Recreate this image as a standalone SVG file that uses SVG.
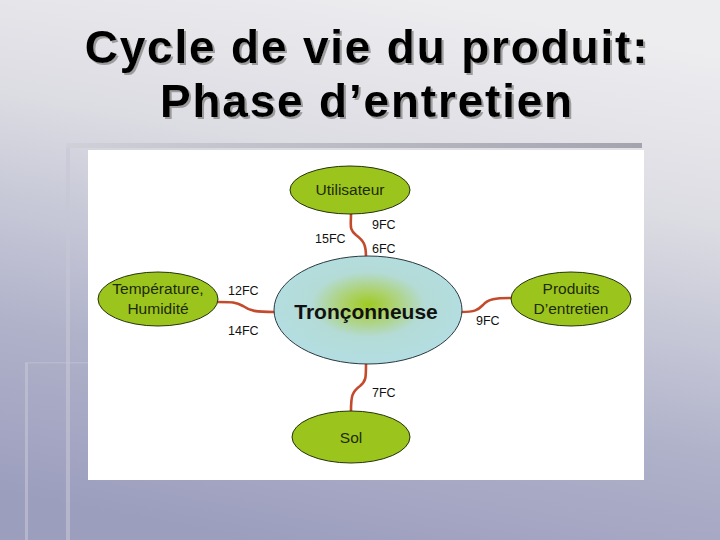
<svg xmlns="http://www.w3.org/2000/svg" width="720" height="540" viewBox="0 0 720 540">
<defs>
<linearGradient id="bg" x1="0.6" y1="0" x2="0.35" y2="1">
<stop offset="0" stop-color="#ededf0"/>
<stop offset="0.3" stop-color="#dcdce3"/>
<stop offset="0.7" stop-color="#b0b2ca"/>
<stop offset="1" stop-color="#9c9ebe"/>
</linearGradient>
<linearGradient id="bar" x1="0" y1="0" x2="1" y2="0">
<stop offset="0" stop-color="#cfd0d8"/>
<stop offset="1" stop-color="#a3a4ad"/>
</linearGradient>
<radialGradient id="core" cx="0.5" cy="0.45" r="0.5">
<stop offset="0" stop-color="#9ecb22"/>
<stop offset="0.25" stop-color="#acd16a"/>
<stop offset="0.6" stop-color="#b4dbd6"/>
<stop offset="1" stop-color="#b3dde0"/>
</radialGradient>
<filter id="shadow" x="-5%" y="-20%" width="110%" height="140%">
<feDropShadow dx="2" dy="2" stdDeviation="0.6" flood-color="#8a8a8a" flood-opacity="0.8"/>
</filter>
<style>
.title{font-family:"Liberation Sans",Arial,sans-serif;font-weight:bold;font-size:46px;letter-spacing:1.8px;fill:#000;text-anchor:middle}
.leaf{fill:#9bc51c;stroke:#24330c;stroke-width:1}
.leaft{font-family:"Liberation Sans",Arial,sans-serif;font-size:15.5px;fill:#1e2a08;text-anchor:middle}
.lbl{font-family:"Liberation Sans",Arial,sans-serif;font-size:12.5px;fill:#111}
.link{fill:none;stroke:#c44a2c;stroke-width:2.6;stroke-linecap:round}
.deco{fill:#c6c7d6;opacity:0.6}
</style>
</defs>
<rect x="0" y="0" width="720" height="540" fill="url(#bg)"/>
<rect x="25" y="363" width="3" height="177" class="deco"/>
<rect x="25" y="362" width="63" height="1.5" fill="#c9cad8" opacity="0.4"/>
<rect x="66" y="145" width="4" height="395" class="deco"/>
<rect x="66" y="143" width="576" height="5" fill="url(#bar)"/>
<rect x="88" y="150" width="556" height="330" fill="#ffffff"/>
<g filter="url(#shadow)">
<text class="title" x="367" y="63">Cycle de vie du produit:</text>
<text class="title" x="367" y="117">Phase d’entretien</text>
</g>
<g id="connectors">
<path class="link" d="M351,214 C351,226 349,229 356,235 C364,241 366,245 366,257"/>
<path class="link" d="M218,302 C232,302 236,302 243,306 C250,311 256,312 274,312"/>
<path class="link" d="M461,312 C475,312 478,310 483,305 C488,299 495,298 512,298"/>
<path class="link" d="M366,364 C366,378 366,381 360,386 C352,392 351,396 351,411"/>
<text class="lbl" x="372" y="229">9FC</text>
<text class="lbl" x="315" y="243">15FC</text>
<text class="lbl" x="372" y="253">6FC</text>
<text class="lbl" x="228" y="295">12FC</text>
<text class="lbl" x="228" y="335">14FC</text>
<text class="lbl" x="476" y="325">9FC</text>
<text class="lbl" x="372" y="397">7FC</text>
</g>
<g id="tronconneuse">
<ellipse cx="368" cy="310" rx="94" ry="54" fill="url(#core)" stroke="#2a3a40" stroke-width="1"/>
<text x="366" y="319" font-family="'Liberation Sans',Arial,sans-serif" font-size="21" font-weight="bold" fill="#111" text-anchor="middle">Tronçonneuse</text>
</g>
<g id="utilisateur">
<ellipse class="leaf" cx="350" cy="190" rx="60" ry="24"/>
<text class="leaft" x="350" y="195">Utilisateur</text>
</g>
<g id="temperature">
<ellipse class="leaf" cx="158" cy="299" rx="60" ry="27"/>
<text class="leaft" x="158" y="294">Température,</text>
<text class="leaft" x="158" y="314">Humidité</text>
</g>
<g id="produits">
<ellipse class="leaf" cx="571" cy="299" rx="60" ry="27"/>
<text class="leaft" x="571" y="294">Produits</text>
<text class="leaft" x="571" y="314">D’entretien</text>
</g>
<g id="sol">
<ellipse class="leaf" cx="351" cy="437" rx="59" ry="26"/>
<text class="leaft" x="351" y="443" font-size="17">Sol</text>
</g>
</svg>
